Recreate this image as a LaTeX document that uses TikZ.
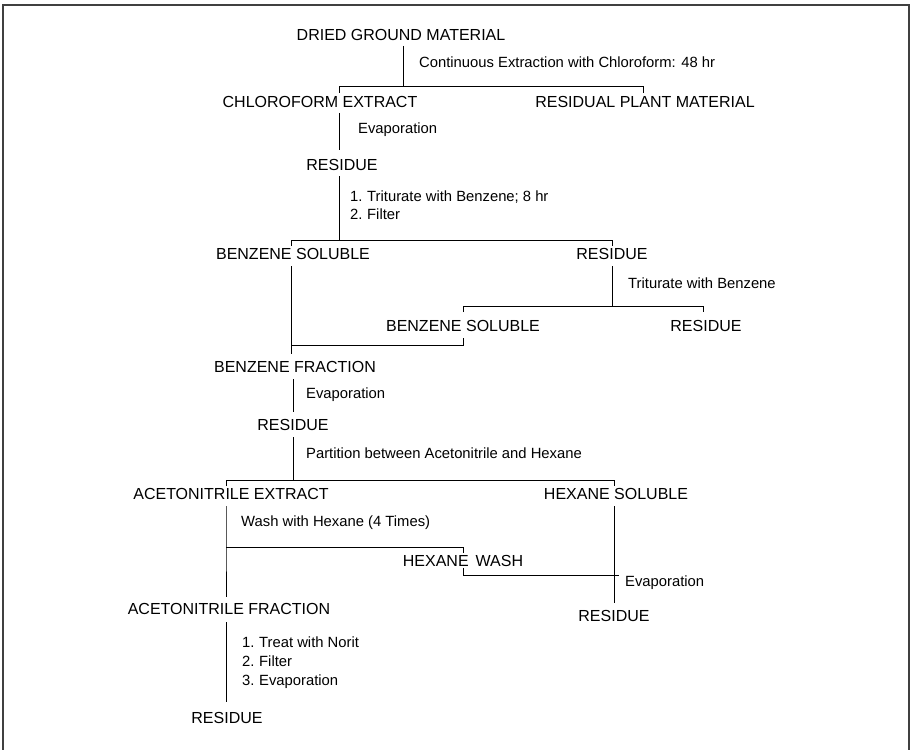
\documentclass[tikz,border=0pt]{standalone}
\usepackage{fontspec}
\setmainfont{Liberation Sans}
\newcommand{\numitem}[2]{\makebox[17pt][l]{#1}#2}
\begin{document}
\begin{tikzpicture}[x=1pt,y=-1pt,
  big/.style={font=\fontsize{16}{18}\selectfont, inner sep=0pt, text height=11.5pt, text depth=0pt, anchor=center},
  small/.style={font=\fontsize{14.8}{17}\selectfont, inner sep=0pt, text height=10pt, text depth=0pt, anchor=west},
  ln/.style={draw=black, line width=1pt},
  frame/.style={draw=black!75, line width=2pt}]
\useasboundingbox (0,0) rectangle (912,749);
\draw[frame] (3,760) -- (3,5) -- (909,5) -- (909,760);

% ---- nodes ----
\node[big] (dried) at (401,35) {DRIED GROUND MATERIAL};
\node[small] (l1) at (419,63) {Continuous Extraction with Chloroform: 48 hr};
\node[big] (chl) at (320,102) {CHLOROFORM EXTRACT};
\node[big] (rpm) at (645,102) {RESIDUAL PLANT MATERIAL};
\node[small] (l2) at (358,128) {Evaporation};
\node[big] (res1) at (342,165) {RESIDUE};
\node[small] (l3a) at (350,196) {\numitem{1.}{Triturate with Benzene; 8 hr}};
\node[small] (l3b) at (350,214) {\numitem{2.}{Filter}};
\node[big] (bs1) at (293,254) {BENZENE SOLUBLE};
\node[big] (res2) at (612,254) {RESIDUE};
\node[small] (l4) at (628,283) {Triturate with Benzene};
\node[big] (bs2) at (463,326) {BENZENE SOLUBLE};
\node[big] (res3) at (706,326) {RESIDUE};
\node[big] (bf) at (295,367) {BENZENE FRACTION};
\node[small] (l5) at (306,393) {Evaporation};
\node[big] (res4) at (293,425) {RESIDUE};
\node[small] (l6) at (306,453) {Partition between Acetonitrile and Hexane};
\node[big] (acn) at (231,494) {ACETONITRILE EXTRACT};
\node[big] (hex) at (616,494) {HEXANE SOLUBLE};
\node[small] (l7) at (241,521) {Wash with Hexane (4 Times)};
\node[big] (hw) at (463,561) {HEXANE\hspace{7pt}WASH};
\node[small] (l8) at (625,581) {Evaporation};
\node[big] (res5) at (614,616) {RESIDUE};
\node[big] (acf) at (229,609) {ACETONITRILE FRACTION};
\node[small] (l9a) at (242,642) {\numitem{1.}{Treat with Norit}};
\node[small] (l9b) at (242,661) {\numitem{2.}{Filter}};
\node[small] (l9c) at (242,680) {\numitem{3.}{Evaporation}};
\node[big] (res6) at (227,718) {RESIDUE};

% ---- junction coordinates ----
\coordinate (j1) at (403,87);
\coordinate (j2) at (339,240);
\coordinate (j3) at (612,306);
\coordinate (j4) at (291,345);
\coordinate (j5) at (293,480);
\coordinate (j6) at (226,547);
\coordinate (j7) at (614,575);

% ---- connectors ----
\draw[ln] (dried.south -| j1) ++(0,5) -- (j1);
\draw[ln] (339,93) -- (339,87) -- (643,87) -- (643,93);
\draw[ln] (339,113) -- (339,150);
\draw[ln] (339,176) -- (j2);
\draw[ln] (291,246) -- (291,240) -- (612,240) -- (612,246);
\draw[ln] (612,266) -- (j3);
\draw[ln] (463,312) -- (463,306) -- (703,306) -- (703,312);
\draw[ln] (291,266) -- (j4) -- (463,345) -- (463,338);
\draw[ln] (j4) -- (291,354);
\draw[ln] (293,379) -- (293,412);
\draw[ln] (293,437) -- (j5);
\draw[ln] (226,486) -- (226,480) -- (614,480) -- (614,486);
\draw[ln] (226,506) -- (j6) -- (226,597);
\draw[ln] (j6) -- (463,547) -- (463,553);
\draw[ln] (463,568) -- (463,575) -- (j7);
\draw[ln] (614,506) -- (614,603);
\draw[ln] (j7) -- (619,575);
\draw[ln] (226,622) -- (226,702);
\end{tikzpicture}
\end{document}
